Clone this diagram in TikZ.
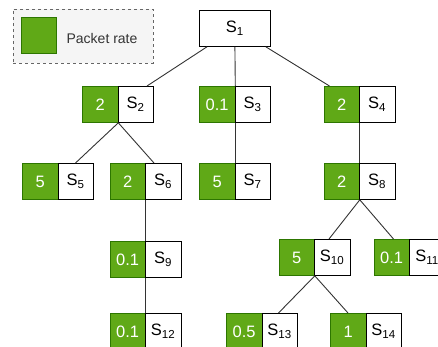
\documentclass[tikz,border=0pt]{standalone}
\usepackage{fontspec}
\setmainfont{Liberation Sans}
\usetikzlibrary{calc}
\definecolor{grn}{HTML}{60A917}
\definecolor{grnstroke}{HTML}{2D7600}
\definecolor{edgec}{HTML}{333333}
\definecolor{legfill}{HTML}{F5F5F5}
\definecolor{legline}{HTML}{666666}
\definecolor{legtext}{HTML}{333333}
\begin{document}
\begin{tikzpicture}[x=1pt,y=-1pt,
  boxfont/.style={font=\fontsize{16.5}{17}\selectfont},
  gbox/.style={draw=grnstroke, fill=grn, text=white, minimum width=35.5pt, minimum height=36pt, inner sep=0pt, anchor=north west, line width=0.8pt, boxfont},
  wbox/.style={draw=black, fill=white, minimum width=35.5pt, minimum height=36pt, inner sep=0pt, anchor=north west, line width=0.8pt, boxfont},
  conn/.style={draw=edgec, line width=0.9pt}]
\useasboundingbox (0,0) rectangle (438,346);
\clip (0,0) rectangle (438,346);
% legend
\node[draw=legline, dashed, fill=legfill, minimum width=140pt, minimum height=54pt, inner sep=0pt, anchor=north west] (leg) at (13,9) {};
\node[draw=grnstroke, fill=grn, minimum width=35pt, minimum height=36pt, inner sep=0pt, anchor=north west] (legsq) at (21,17) {};
\node[text=legtext, font=\fontsize{14}{15}\selectfont] (legtxt) at (102,38) {Packet rate};
% root
\node[wbox, minimum width=71pt] (s1) at (199,10) {S\textsubscript{1}};
% pairs
\newcommand{\pairnode}[5]{%
  \node[gbox] (g#1) at (#2,#3) {#4};
  \node[wbox] (s#1) at (#2+35.5,#3) {#5};}
\pairnode{2}{82}{86}{2}{S\textsubscript{2}}
\pairnode{3}{199}{86}{0.1}{S\textsubscript{3}}
\pairnode{4}{323.5}{86}{2}{S\textsubscript{4}}
\pairnode{5}{22}{163}{5}{S\textsubscript{5}}
\pairnode{6}{109.5}{163}{2}{S\textsubscript{6}}
\pairnode{7}{199}{163}{5}{S\textsubscript{7}}
\pairnode{8}{323.5}{163}{2}{S\textsubscript{8}}
\pairnode{9}{109.5}{241}{0.1}{S\textsubscript{9}}
\pairnode{10}{278.5}{239}{5}{S\textsubscript{10}}
\pairnode{11}{373.5}{239}{0.1}{S\textsubscript{11}}
\pairnode{12}{109.5}{313}{0.1}{S\textsubscript{12}}
\pairnode{13}{226}{313}{0.5}{S\textsubscript{13}}
\pairnode{14}{330}{313}{1}{S\textsubscript{14}}
% connectors
\draw[conn] ($(s1.south west)+(8,0)$) -- ($(s2.north west)+(29.5,0)$);
\draw[conn] (s1.south) -- (g3.north east);
\draw[conn] ($(s1.south east)+(-5,0)$) -- ($(g4.north west)+(6,0)$);
\draw[conn] (g2.south east) -- ($(s5.north west)+(18,0)$);
\draw[conn] (g2.south east) -- ($(s6.north west)+(9,0)$);
\draw[conn] (g3.south east) -- (g7.north east);
\draw[conn] (g4.south east) -- (g8.north east);
\draw[conn] (g6.south east) -- (g9.north east);
\draw[conn] (g9.south east) -- (g12.north east);
\draw[conn] (g8.south east) -- ($(s10.north west)+(15,0)$);
\draw[conn] (g8.south east) -- ($(g11.north west)+(20,0)$);
\draw[conn] (g10.south east) -- ($(s13.north west)+(17,0)$);
\draw[conn] (g10.south east) -- ($(g14.north west)+(18,0)$);
\end{tikzpicture}
\end{document}
